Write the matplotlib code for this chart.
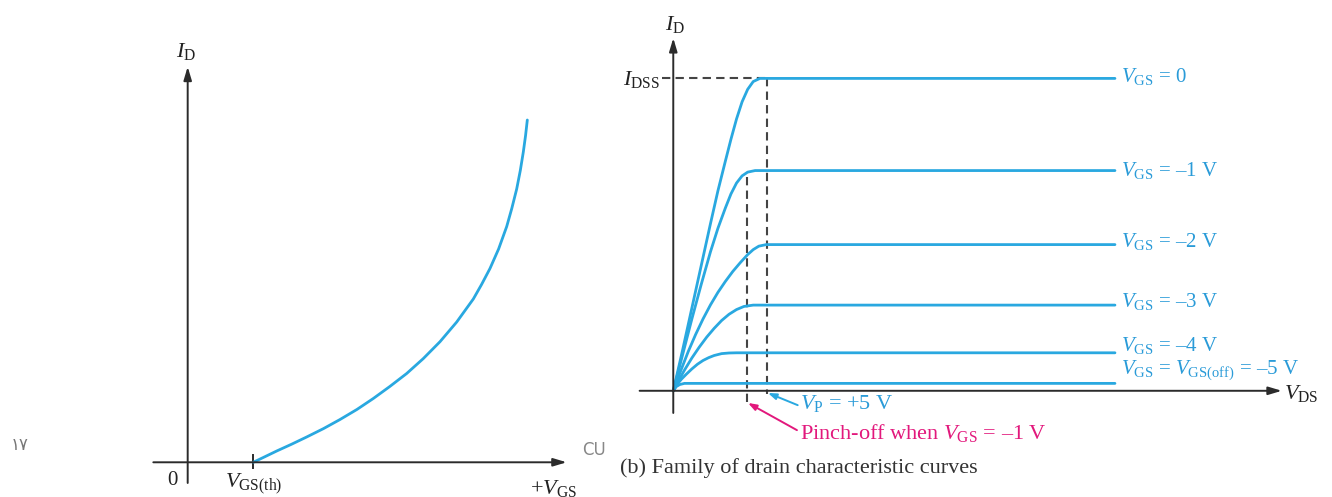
# Libraries
import matplotlib
matplotlib.use('Agg')
import matplotlib.pyplot as plt

plt.rcParams['font.family'] = ['Liberation Serif', 'DejaVu Sans']
plt.rcParams['mathtext.fontset'] = 'custom'
plt.rcParams['mathtext.rm'] = 'Liberation Serif'
plt.rcParams['mathtext.it'] = 'Liberation Serif:italic'
plt.rcParams['mathtext.bf'] = 'Liberation Serif:bold'


# ---------------------
# Data
# ---------------------
# (a) transfer curve, V_GS in units where V_GS(th) = 1
vgs_curve = [1.0, 1.152, 1.357, 1.58, 1.814, 2.07, 2.322, 2.58, 2.829, 3.08, 3.338,
             3.59, 3.846, 4.10, 4.354, 4.48, 4.608, 4.74, 4.863, 4.94, 5.015,
             5.07, 5.116, 5.15, 5.177]
id_curve = [0.0, 0.14, 0.33, 0.525, 0.74, 0.985, 1.251, 1.545, 1.865, 2.215, 2.596,
            3.03, 3.526, 4.10, 4.775, 5.20, 5.667, 6.24, 6.895, 7.42, 7.991,
            8.53, 9.073, 9.55, 10.009]
vgs_th = 1.0

# (b) drain curves, V_DS in volts, I_D with I_DSS = 10
vgs_values = [0, -1, -2, -3, -4, -5]
vds_0 = [0, 0.5, 1.0, 1.5, 2.0, 2.4, 2.8, 3.1, 3.4, 3.7, 4.0, 4.3, 4.66, 23.75]
id_0 = [0, 1.30, 2.65, 4.0, 5.35, 6.4, 7.35, 8.05, 8.7, 9.25, 9.65, 9.9, 10.0, 10.0]
vds_1 = [0, 0.5, 1.0, 1.5, 2.0, 2.4, 2.8, 3.1, 3.4, 3.7, 4.0, 4.4, 23.75]
id_1 = [0, 1.15, 2.3, 3.4, 4.45, 5.2, 5.85, 6.3, 6.65, 6.88, 7.0, 7.05, 7.05]
vds_2 = [0, 0.4, 0.8, 1.2, 1.6, 2.0, 2.4, 2.8, 3.2, 3.6, 4.0, 4.3, 4.6, 5.0, 23.75]
id_2 = [0, 0.64, 1.25, 1.8, 2.3, 2.75, 3.15, 3.5, 3.82, 4.1, 4.36, 4.52, 4.63, 4.68, 4.68]
vds_3 = [0, 0.3, 0.6, 1.0, 1.4, 1.8, 2.2, 2.6, 3.0, 3.4, 3.8, 4.3, 23.75]
id_3 = [0, 0.34, 0.66, 1.05, 1.4, 1.72, 2.0, 2.25, 2.45, 2.6, 2.7, 2.743, 2.743]
vds_4 = [0, 0.2, 0.45, 0.7, 1.0, 1.3, 1.6, 1.9, 2.2, 2.6, 3.0, 3.4, 23.75]
id_4 = [0, 0.2, 0.38, 0.53, 0.7, 0.85, 0.97, 1.06, 1.13, 1.19, 1.21, 1.216, 1.216]
vds_5 = [0, 0.15, 0.35, 0.6, 23.75]
id_5 = [0, 0.13, 0.2, 0.237, 0.237]

i_dss = 10.0
v_p = 5.02
v_pinch_1 = 3.95
id_pinch_1 = 6.85

curve_labels = [r'$V_{\mathrm{GS}}$ = 0',
                r'$V_{\mathrm{GS}}$ = –1 V',
                r'$V_{\mathrm{GS}}$ = –2 V',
                r'$V_{\mathrm{GS}}$ = –3 V',
                r'$V_{\mathrm{GS}}$ = –4 V',
                r'$V_{\mathrm{GS}}$ = $V_{\mathrm{GS(off)}}$ = –5 V']
label_y = [10.05, 7.06, 4.77, 2.85, 1.46, 0.66]

blue = '#29A8E0'
blue_txt = '#2A9BD8'
pink = '#E2187C'
axis_col = '#2b2b2b'
dash_col = '#444444'


# ---------------------
# Figure
# ---------------------
fig = plt.figure(figsize=(13.32, 4.97), dpi=100)
fig.patch.set_facecolor('white')

ax1 = fig.add_axes([0, 0, 600 / 1332, 1])
ax2 = fig.add_axes([600 / 1332, 0, 732 / 1332, 1])
for ax in (ax1, ax2):
    ax.set_axis_off()
    ax.patch.set_alpha(0)

arrow_kw = dict(arrowstyle='-|>,head_length=0.8,head_width=0.24', lw=1.4,
                color=axis_col, shrinkA=0, shrinkB=0)


# ---------------------
# (a) transfer characteristic
# ---------------------
ax1.set_xlim(-2.861, 6.285)
ax1.set_ylim(-1.015, 13.518)

ax1.annotate('', xy=(5.777, 0), xytext=(-0.524, 0), arrowprops=arrow_kw)
ax1.annotate('', xy=(0, 11.567), xytext=(0, -0.605), arrowprops=arrow_kw)
ax1.plot([vgs_th, vgs_th], [-0.17, 0.21], color=axis_col, lw=1.4)
ax1.plot(vgs_curve, id_curve, color=blue, lw=2.0, solid_capstyle='round',
         solid_joinstyle='round')

ax1.text(-0.03, 12.0, r'$I_{\mathrm{D}}$', fontsize=16, ha='center', va='center', color='#222222')
ax1.text(-0.232, -0.52, '0', fontsize=15, ha='center', va='center', color='#222222')
ax1.text(1.0, -0.62, r'$V_{\mathrm{GS(th)}}$', fontsize=16, ha='center', va='center', color='#222222')
ax1.text(5.57, -0.78, r'+$V_{\mathrm{GS}}$', fontsize=16, ha='center', va='center', color='#222222')
ax1.text(-2.557, 0.5, '١٧', fontsize=12, ha='center', va='center', color='#777777',
         family=['DejaVu Sans'])
ax1.text(6.19, 0.36, 'CU', fontsize=12, ha='center', va='center', color='#888888',
         family=['DejaVu Sans'])


# ---------------------
# (b) drain characteristic curves
# ---------------------
ax2.set_xlim(-3.94, 35.42)
ax2.set_ylim(-3.40, 12.51)

ax2.annotate('', xy=(32.72, 0), xytext=(-1.81, 0), arrowprops=arrow_kw)
ax2.annotate('', xy=(0, 11.29), xytext=(0, -0.71), arrowprops=arrow_kw)

# dashed guide lines
ax2.plot([-0.62, v_p], [i_dss, i_dss], color=dash_col, lw=1.5, ls=(0, (4, 2.5)))
ax2.plot([v_p, v_p], [i_dss, -0.1], color=dash_col, lw=1.5, ls=(0, (4, 2.5)))
ax2.plot([v_pinch_1, v_pinch_1], [id_pinch_1, -0.39], color=dash_col, lw=1.5, ls=(0, (4, 2.5)))

for xs, ys in [(vds_0, id_0), (vds_1, id_1), (vds_2, id_2),
               (vds_3, id_3), (vds_4, id_4), (vds_5, id_5)]:
    ax2.plot(xs, ys, color=blue, lw=2.0, solid_capstyle='round', solid_joinstyle='round')

for lab, y in zip(curve_labels, label_y):
    ax2.text(24.1, y, lab, fontsize=15, ha='left', va='center', color=blue_txt)

ax2.text(0.09, 11.74, r'$I_{\mathrm{D}}$', fontsize=16, ha='center', va='center', color='#222222')
ax2.text(-0.72, 9.95, r'$I_{\mathrm{DSS}}$', fontsize=16, ha='right', va='center', color='#222222')
ax2.text(32.83, -0.1, r'$V_{\mathrm{DS}}$', fontsize=16, ha='left', va='center', color='#222222')

# pinch-off annotations
small_arrow = '-|>,head_length=0.5,head_width=0.18'
ax2.annotate('', xy=(5.09, -0.07), xytext=(6.69, -0.46),
             arrowprops=dict(arrowstyle=small_arrow, lw=1.4, color=blue, shrinkA=0, shrinkB=0))
ax2.text(6.8, -0.40, r'$V_{\mathrm{P}}$ = +5 V', fontsize=16, color=blue_txt,
         ha='left', va='center')
ax2.annotate('', xy=(4.02, -0.39), xytext=(6.65, -1.26),
             arrowprops=dict(arrowstyle=small_arrow, lw=1.4, color=pink, shrinkA=0, shrinkB=0))
ax2.text(6.81, -1.35, r'Pinch-off when $V_{\mathrm{GS}}$ = –1 V', fontsize=16, color=pink,
         ha='left', va='center')

ax2.text(-2.87, -2.47, '(b) Family of drain characteristic curves', fontsize=16,
         ha='left', va='center', color='#333333')

plt.savefig('out.png', dpi=100)
